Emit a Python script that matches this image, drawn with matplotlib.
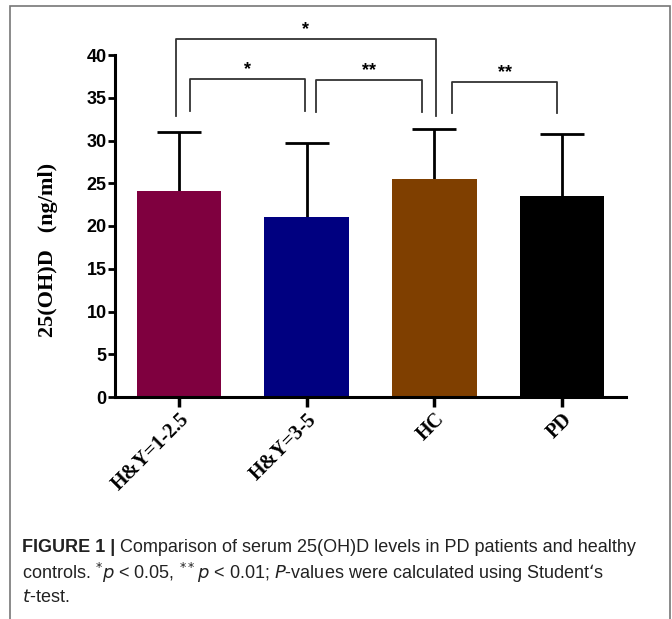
import matplotlib
matplotlib.use("Agg")
import matplotlib.pyplot as plt
from matplotlib.patches import Rectangle

groups = ["H&Y=1-2.5", "H&Y=3-5", "HC", "PD"]
means = [24.1, 21.0, 25.5, 23.5]
sd = [6.9, 8.7, 5.9, 7.3]
colors = ["#7f003f", "#000080", "#7f3f00", "#000000"]

# significance brackets: (left x, right x, top y, leg bottom y, label)
brackets = [
    (-0.02, 2.01, 41.9, 32.9, "*"),
    (0.09, 0.99, 37.2, 33.4, "*"),
    (1.07, 1.90, 37.1, 33.3, "**"),
    (2.14, 2.96, 36.9, 33.2, "**"),
]

fig = plt.figure(figsize=(6.72, 6.19), dpi=100)
ax = fig.add_axes([115/672, 222/619, 511/672, 342/619])

x = range(len(groups))
# symmetric error bars drawn under the bars, so only the upper half shows
ax.errorbar(x, means, yerr=sd, fmt="none", ecolor="black",
            elinewidth=2, capsize=16, capthick=2, zorder=1)
ax.bar(x, means, width=0.66, color=colors, linewidth=0, zorder=2)

ax.set_xlim(-0.5, 3.5)
ax.set_ylim(0, 40)
ax.set_yticks(range(0, 41, 5))
ax.set_xticks(list(x))
for s in ["top", "right"]:
    ax.spines[s].set_visible(False)
for s in ["left", "bottom"]:
    ax.spines[s].set_linewidth(2.2)
    ax.spines[s].set_zorder(3)
ax.tick_params(axis="y", width=2, length=5, labelsize=13, pad=1)
ax.tick_params(axis="x", width=2.5, length=7, pad=2)
for lab in ax.get_yticklabels():
    lab.set_fontweight("bold")
    lab.set_family("Liberation Sans")
ax.set_xticklabels(groups, rotation=45, ha="right", rotation_mode="anchor",
                   fontsize=14.5, fontweight="bold", family="Liberation Serif")

ax.set_ylabel("25(OH)D   (ng/ml)", fontsize=16, fontweight="bold",
              family="Liberation Serif", va="center")
ax.yaxis.set_label_coords(-0.131, 0.43)

for x0, x1, ytop, ybot, lab in brackets:
    ax.plot([x0, x0, x1, x1], [ybot, ytop, ytop, ybot], color="#333333",
            lw=1.3, clip_on=False)
    ax.text((x0 + x1) / 2, ytop + 0.1, lab, ha="center", va="bottom",
            fontsize=13, fontweight="bold", family="Liberation Sans")

# caption
cap = dict(fontsize=13, family="Liberation Sans", va="center", color="#222222")
t1 = fig.text(22/672, 1 - 548/619, "FIGURE 1 | ", fontweight="bold", **cap)
fig.canvas.draw()
bb = t1.get_window_extent()
fig.text(bb.x1 / 672, 1 - 548/619,
         "Comparison of serum 25(OH)D levels in PD patients and healthy", **cap)
fig.text(22/672, 1 - 573/619,
         r"controls. $^{*}\mathit{p}$ < 0.05, $^{**}\mathit{p}$ < 0.01; $\mathit{P}$-values were calculated using Student"
         + "\u2018s", **cap)
fig.text(22/672, 1 - 598/619, r"$\mathit{t}$-test.", **cap)

fig.patches.append(Rectangle((10/672, -0.05), 660/672, 1 - 6/619 + 0.05,
                             transform=fig.transFigure, fill=False,
                             edgecolor="#777777", lw=1.2))

fig.savefig("out.png", dpi=100)
